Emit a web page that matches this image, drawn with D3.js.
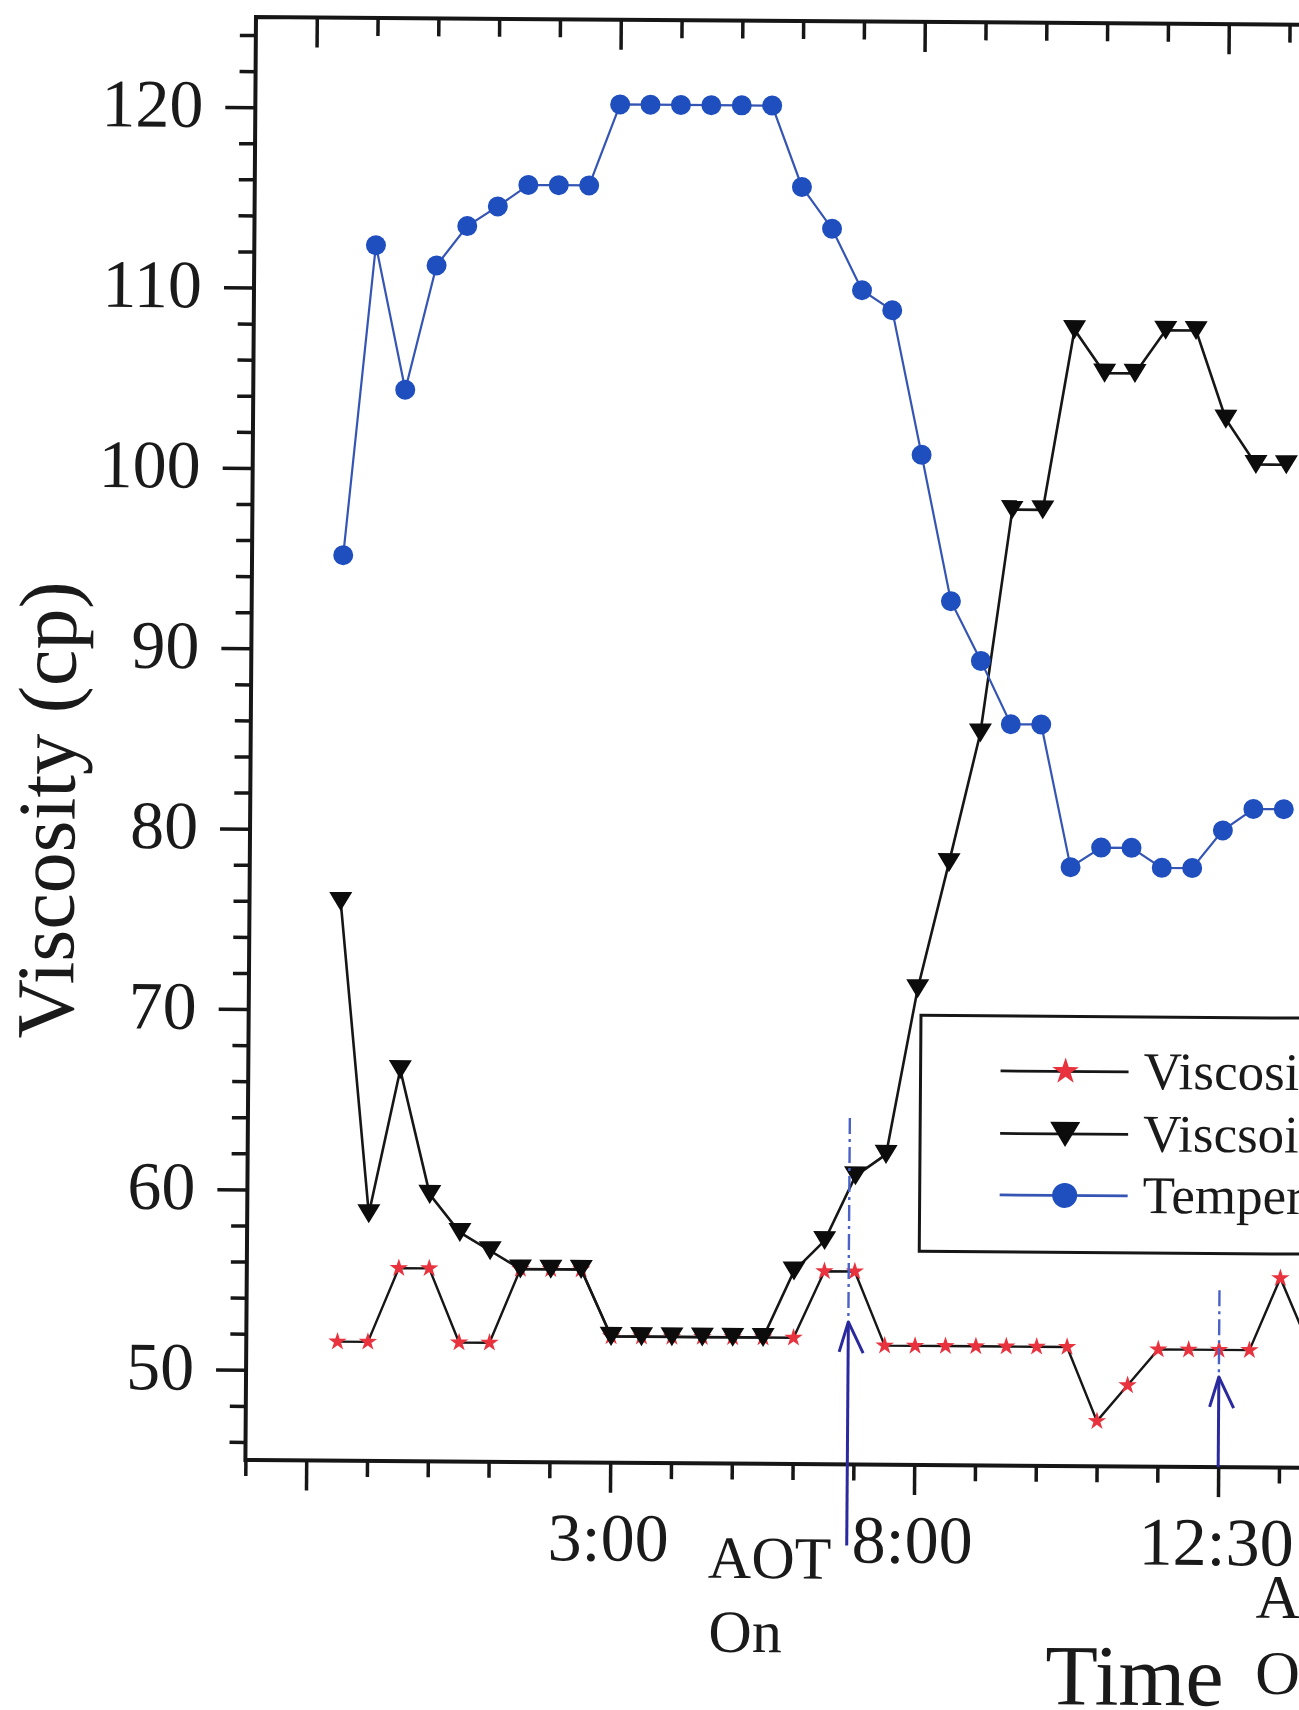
<!DOCTYPE html>
<html><head><meta charset="utf-8">
<script src="https://cdn.jsdelivr.net/npm/d3@7"></script>
<style>body{margin:0;background:#fff}svg{display:block}</style>
</head><body>
<svg id="c" width="1299" height="1710"></svg>
<script>
// ---- data ----
const sampleNo = [1,2,3,4,5,6,7,8,9,10,11,12,13,14,15,16,17,18,19,20,21,22,23,24,25,26,27,28,29,30,31,32,33];
const viscosityAOT = [51.6,51.6,55.7,55.7,51.6,51.6,55.7,55.7,55.7,52.0,52.0,52.0,52.0,52.0,52.0,52.0,55.7,55.7,51.6,51.6,51.6,51.6,51.6,51.6,51.6,47.5,49.5,51.5,51.5,51.5,51.5,55.5,51.6];
const viscosityNoAOT = [76.0,58.7,66.7,59.8,57.7,56.7,55.7,55.7,55.7,52.0,52.0,52.0,52.0,52.0,52.0,55.7,57.4,61.0,62.2,71.4,78.4,85.6,98.0,98.0,108.0,105.6,105.6,108.0,108.0,103.1,100.6,100.6,null];
const temperature = [95.2,112.4,104.4,111.3,113.5,114.6,115.8,115.8,115.8,120.3,120.3,120.3,120.3,120.3,120.3,115.8,113.5,110.1,109.0,101.0,92.9,89.6,86.1,86.1,78.2,79.3,79.3,78.2,78.2,80.3,81.5,81.5,null];
const yTicksMajor = [50,60,70,80,90,100,110,120];
const yTicksMinor = [46,48,52,54,56,58,62,64,66,68,72,74,76,78,82,84,86,88,92,94,96,98,102,104,106,108,112,114,116,118,122,124];
const xTicksMajor = [0,10,20,30,40];
const xTicksMinor = [-2,2,4,6,8,12,14,16,18,22,24,26,28,32,34,36,38];
const xTickLabels = {10:"3:00", 20:"8:00", 30:"12:30"};
const seriesNames = ["Viscosity with AOT","Viscsoity without AOT","Temperature"];
const aotEvents = [
  {n:17.8, tip:52.9, shaftEnd:40.5, dashTop:64.2, words:["AOT","On"]},
  {n:30,   tip:50.0, shaftEnd:45,   dashTop:54.8, words:["AOT","Off"]}
];

// ---- drawing ----
const FONT = '"Liberation Serif","Times New Roman",serif';
const svg = d3.select('#c');
svg.append('rect').attr('width',1299).attr('height',1710).attr('fill','#fff');
const g = svg.append('g').attr('transform','rotate(0.42,740,740)');

const x = d3.scaleLinear().domain([-2,40]).range([250.7, 250.7+42*30.4]);
const y = d3.scaleLinear().domain([45,125]).range([1463.6, 20.6]);

const INK = '#161616';
function styleAxis(sel){
  sel.select('.domain').remove();
  sel.selectAll('.tick line').attr('stroke',INK).attr('stroke-width',3.5);
  sel.selectAll('text').attr('fill','#1a1a1a').style('font-family',FONT);
}
// y axis
g.append('g').attr('transform',`translate(${x(-2)},0)`)
  .call(d3.axisLeft(y).tickValues(yTicksMinor).tickSize(16).tickFormat(''))
  .call(styleAxis);
g.append('g').attr('transform',`translate(${x(-2)},0)`)
  .call(d3.axisLeft(y).tickValues(yTicksMajor).tickSize(30).tickPadding(22).tickFormat(d=>String(d)))
  .call(styleAxis)
  .call(s=>s.selectAll('text').style('font-size','68px').attr('dy','0.29em'));
// bottom axis
g.append('g').attr('transform',`translate(0,${y(45)})`)
  .call(d3.axisBottom(x).tickValues(xTicksMinor).tickSize(16).tickFormat(''))
  .call(styleAxis);
g.append('g').attr('transform',`translate(0,${y(45)})`)
  .call(d3.axisBottom(x).tickValues(xTicksMajor).tickSize(30).tickFormat(d=>xTickLabels[d]||''))
  .call(styleAxis)
  .call(s=>s.selectAll('text').style('font-size','68px').attr('y',98).attr('dy',0).attr('x',-2));
// top axis (inward ticks)
g.append('g').attr('transform',`translate(0,${y(125)})`)
  .call(d3.axisTop(x).tickValues(xTicksMinor.filter(v=>v>-2)).tickSize(-18).tickFormat(''))
  .call(styleAxis);
g.append('g').attr('transform',`translate(0,${y(125)})`)
  .call(d3.axisTop(x).tickValues(xTicksMajor).tickSize(-30).tickFormat(''))
  .call(styleAxis);
// frame
g.append('path')
  .attr('d',`M${x(40)},${y(125)}H${x(-2)}V${y(45)}H${x(40)}`)
  .attr('fill','none').attr('stroke',INK).attr('stroke-width',4).attr('stroke-linecap','square');

// axis titles
g.append('text').attr('transform','translate(75,815) rotate(-90)')
  .attr('text-anchor','middle').style('font-family',FONT).style('font-size','82px').attr('fill','#1a1a1a')
  .text('Viscosity (cp)');
g.append('text').attr('x',1052).attr('y',1702).style('font-family',FONT).style('font-size','86px')
  .attr('fill','#1a1a1a').text('Time');

// series
const rows = sampleNo.map((n,i)=>({n, a:viscosityAOT[i], b:viscosityNoAOT[i], t:temperature[i]}));
const mkLine = key => d3.line().defined(d=>d[key]!=null).x(d=>x(d.n)).y(d=>y(d[key]));
const starPath = d3.symbol().type(d3.symbolStar).size(105)();
const triPath = 'M-11.5,-9.5L11.5,-9.5L0,9.5Z';
const RED='#e8323e', BLUE='#1f4ebf', BLUELINE='#3555b4';

g.append('path').datum(rows).attr('d',mkLine('a')).attr('fill','none').attr('stroke',INK).attr('stroke-width',2.4);
g.selectAll('.star').data(rows.filter(d=>d.a!=null)).join('path').attr('class','star')
  .attr('d',starPath).attr('transform',d=>`translate(${x(d.n)},${y(d.a)})`).attr('fill',RED);

g.append('path').datum(rows).attr('d',mkLine('b')).attr('fill','none').attr('stroke',INK).attr('stroke-width',2.6);
g.selectAll('.tri').data(rows.filter(d=>d.b!=null)).join('path').attr('class','tri')
  .attr('d',triPath).attr('transform',d=>`translate(${x(d.n)},${y(d.b)})`).attr('fill','#0c0c0c');

g.append('path').datum(rows).attr('d',mkLine('t')).attr('fill','none').attr('stroke',BLUELINE).attr('stroke-width',2.2);
g.selectAll('.dot').data(rows.filter(d=>d.t!=null)).join('circle').attr('class','dot')
  .attr('cx',d=>x(d.n)).attr('cy',d=>y(d.t)).attr('r',10).attr('fill',BLUE);

// AOT arrows and labels
const ARROW='#2a2a9e';
aotEvents.forEach((e,i)=>{
  const ax=x(e.n);
  g.append('line').attr('x1',ax).attr('x2',ax).attr('y1',y(e.dashTop)).attr('y2',y(e.tip)-4)
    .attr('stroke','#4a62c8').attr('stroke-width',2.4).attr('stroke-dasharray','16,5,3,5');
  g.append('line').attr('x1',ax).attr('x2',ax).attr('y1',y(e.tip)).attr('y2',y(e.shaftEnd))
    .attr('stroke',ARROW).attr('stroke-width',3);
  const ty=y(e.tip);
  g.append('path').attr('d',`M${ax-9},${ty+30}L${ax},${ty}L${ax+15},${ty+31}`)
    .attr('fill','none').attr('stroke',ARROW).attr('stroke-width',3).attr('stroke-linejoin','round');
});
const wordPos = [[[714,1578],[715,1652]],[[1262,1614],[1262,1690]]];
aotEvents.forEach((e,i)=>{
  e.words.forEach((w,j)=>{
    g.append('text').attr('x',wordPos[i][j][0]).attr('y',wordPos[i][j][1])
      .style('font-family',FONT).style('font-size', i===0?'60px':'62px').attr('fill','#1a1a1a').text(w);
  });
});

// legend
const lg = g.append('g');
lg.append('rect').attr('x',923).attr('y',1014).attr('width',500).attr('height',236)
  .attr('fill','#fff').attr('stroke',INK).attr('stroke-width',3);
const legRows = [1069,1131.5,1193];
legRows.forEach((ly,i)=>{
  lg.append('line').attr('x1',1003).attr('x2',1131).attr('y1',ly).attr('y2',ly)
    .attr('stroke', i===2?BLUELINE:INK).attr('stroke-width',2.8);
  if(i===0) lg.append('path').attr('d',d3.symbol().type(d3.symbolStar).size(220)()).attr('transform',`translate(1068,${ly})`).attr('fill',RED);
  if(i===1) lg.append('path').attr('d','M-15,-12L15,-12L0,13Z').attr('transform',`translate(1068,${ly})`).attr('fill','#0c0c0c');
  if(i===2) lg.append('circle').attr('cx',1068).attr('cy',ly).attr('r',12.5).attr('fill',BLUE);
  lg.append('text').attr('x',1146).attr('y',ly+17).style('font-family',FONT).style('font-size','53px')
    .attr('fill','#1a1a1a').text(seriesNames[i]);
});
</script>
</body></html>
